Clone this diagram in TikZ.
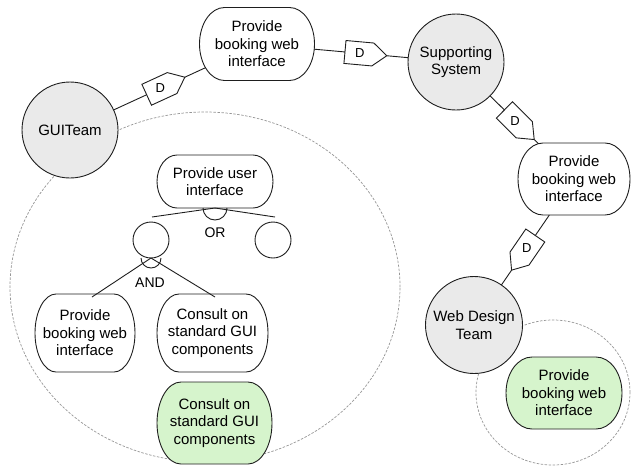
\documentclass[tikz,border=0pt]{standalone}
\usepackage{fontspec}
\setmainfont{Liberation Sans}
\usetikzlibrary{calc,shapes.geometric,intersections}
\definecolor{actorfill}{RGB}{234,234,234}
\definecolor{goalgreen}{RGB}{214,244,204}
\definecolor{bndcol}{RGB}{150,150,150}
\definecolor{inkcol}{RGB}{30,30,30}
% dependum "D" shape on a dependency link
\newcommand\depD[4]{%
  \coordinate (#1b) at ($(#2)!#4!(#3)$);
  \coordinate (#1t) at ($(#1b)!42pt!(#3)$);
  \coordinate (#1m) at ($(#1b)!28pt!(#3)$);
  \draw[depsh] ($(#1b)!11.5pt!90:(#3)$) -- ($(#1m)!11.5pt!90:(#1t)$) -- (#1t) -- ($(#1m)!11.5pt!-90:(#1t)$) -- ($(#1b)!11.5pt!-90:(#3)$) -- cycle;
  \node[dlabel] (#1) at ($(#1b)!15pt!(#3)$) {D};
}
% goal: name, x, y, w, h, rx, fill, text
\newcommand\goalnode[8]{%
  \filldraw[goalline, fill=#7, name path=#1path]
    ({#2-#4/2+#6},{#3-#5/2}) -- ({#2+#4/2-#6},{#3-#5/2})
    arc[start angle=90, end angle=-90, x radius=#6pt, y radius={#5pt/2}]
    -- ({#2-#4/2+#6},{#3+#5/2})
    arc[start angle=270, end angle=90, x radius=#6pt, y radius={#5pt/2}]
    -- cycle;
  \node[goaltext, minimum width=#4pt, minimum height=#5pt] (#1) at (#2,#3) {#8};
}
\begin{document}
\begin{tikzpicture}[x=1pt,y=-1pt,
  every node/.style={font=\fontsize{15}{17.5}\selectfont, align=center, inner sep=0pt, outer sep=0pt},
  actor/.style={circle, draw=inkcol, line width=0.9pt, fill=actorfill, minimum size=96pt},
  goalline/.style={draw=inkcol, line width=0.9pt},
  goaltext/.style={rectangle},
  branch/.style={circle, draw=inkcol, line width=0.9pt, fill=white, minimum size=36pt},
  bound/.style={ellipse, draw=bndcol, line width=0.7pt, dash pattern=on 2.5pt off 1.5pt},
  link/.style={draw=inkcol, line width=0.9pt},
  depsh/.style={draw=inkcol, fill=white, line width=0.9pt, line join=miter},
  dlabel/.style={font=\fontsize{13}{15}\selectfont},
  oplabel/.style={font=\fontsize{14}{16}\selectfont}
]
\useasboundingbox (0,0) rectangle (631,467);

% boundaries
\node[bound, minimum width=390pt, minimum height=350pt] (guibnd) at (205,287) {};
\node[bound, minimum width=154pt, minimum height=145pt] (wdtbnd) at (553,392.5) {};

% actors
\node[actor] (gui) at (70,130) {GUITeam};
\node[actor] (sup) at (456,62) {Supporting\\System};
\node[actor, minimum size=97pt] (wdt) at (474,325) {Web Design\\Team};

% dependums
\goalnode{g1}{257}{44}{115}{73}{25}{white}{Provide\\booking web\\interface}
\goalnode{g2}{574}{179}{112}{72}{25}{white}{Provide\\booking web\\interface}
\goalnode{g3}{564}{393}{116}{72}{26}{goalgreen}{Provide\\booking web\\interface}

% inside GUITeam
\goalnode{pui}{215}{181.5}{116}{53}{20}{white}{Provide user\\interface}
\node[branch] (c1) at (151,240) {};
\node[branch] (c2) at (273,240) {};
\goalnode{l1}{85}{333}{100}{78}{21}{white}{Provide\\booking web\\interface}
\goalnode{l2}{212.5}{333}{111}{78}{22}{white}{Consult on\\standard GUI\\components}
\goalnode{l3}{214.5}{423}{115}{82}{24}{goalgreen}{Consult on\\standard GUI\\components}

% OR decomposition
\coordinate (c1t) at ($(c1.north)+(1,-5)$);
\coordinate (c2t) at ($(c2.north)+(2,-5)$);
\draw[link] (pui.south) -- (c1t);
\draw[link] (pui.south) -- (c2t);
\draw[link] ($(pui.south)+(-12,0)$) arc[start angle=180, end angle=360, radius=12pt];
\node[oplabel] (orl) at (215,233) {OR};

% AND decomposition
\coordinate (a1) at (92,297);
\coordinate (a2) at (215,297);
\draw[link] (c1.south) -- (a1);
\draw[link] (c1.south) -- (a2);
\draw[link] ($(c1.south)+(-10,0)$) arc[start angle=180, end angle=360, radius=10pt];
\node[oplabel] (andl) at (150,283) {AND};

% dependency links
\depD{d1}{gui}{g1}{0.41}
\depD{d2}{g1}{sup}{0.442}
\depD{d3}{sup}{g2}{0.41}
\depD{d4}{g2}{wdt}{0.387}

\draw[link] (gui) -- (d1b);
\path[name path=r1] (d1t) -- (g1.center);
\draw[link, name intersections={of=r1 and g1path, by=x1}] (d1t) -- (x1);

\path[name path=r2] (d2b) -- (g1.center);
\draw[link, name intersections={of=r2 and g1path, by=x2}] (x2) -- (d2b);
\draw[link] (d2t) -- (sup);

\draw[link] (sup) -- (d3b);
\path[name path=r3] (d3t) -- (g2.center);
\draw[link, name intersections={of=r3 and g2path, by=x3}] (d3t) -- (x3);

\path[name path=r4] (d4b) -- (g2.center);
\draw[link, name intersections={of=r4 and g2path, by=x4}] (x4) -- (d4b);
\draw[link] (d4t) -- (wdt);
\end{tikzpicture}
\end{document}
